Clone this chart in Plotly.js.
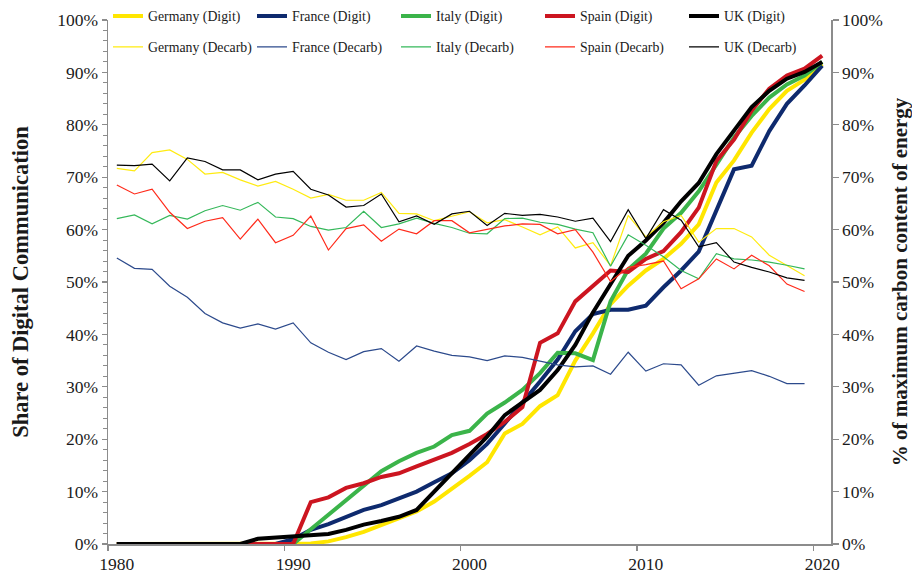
<!DOCTYPE html>
<html>
<head>
<meta charset="utf-8">
<script src="https://cdn.plot.ly/plotly-3.0.1.min.js"></script>
<style>html,body{margin:0;padding:0;background:#fff;}#chart{width:912px;height:572px;}</style>
</head>
<body>
<div id="chart"></div>
<script>
// Years of the digital-communication series (1980-2020) and decarbonisation series (1980-2019)
const yearsDigit = [1980,1981,1982,1983,1984,1985,1986,1987,1988,1989,1990,1991,1992,1993,1994,1995,1996,1997,1998,1999,2000,2001,2002,2003,2004,2005,2006,2007,2008,2009,2010,2011,2012,2013,2014,2015,2016,2017,2018,2019,2020];
const yearsDecarb = [1980,1981,1982,1983,1984,1985,1986,1987,1988,1989,1990,1991,1992,1993,1994,1995,1996,1997,1998,1999,2000,2001,2002,2003,2004,2005,2006,2007,2008,2009,2010,2011,2012,2013,2014,2015,2016,2017,2018,2019];
const xTickLabels = [1980,1990,2000,2010,2020];

// Share of digital communication (%)
const germanyDigit = [0,0,0,0,0,0,0,0,0,0,0,0.1,0.5,1.3,2.3,3.6,4.9,6.2,8.1,10.5,13.0,15.6,21.1,22.9,26.3,28.4,35.0,40.2,45.8,49.3,52.2,54.4,57.3,61.0,69.0,73.2,78.5,83.0,86.5,88.6,91.6];
const franceDigit  = [0,0,0,0,0,0,0,0,0,0,0.9,2.7,3.8,5.2,6.5,7.4,8.6,10.0,11.8,13.5,16.0,19.1,23.0,26.9,31.0,35.2,40.6,43.9,44.7,44.7,45.5,49.0,52.2,55.8,63.6,71.5,72.2,78.8,84.0,87.5,91.3];
const italyDigit   = [0,0,0,0,0,0,0,0,0,0,0,2.8,5.6,8.3,11.1,13.9,15.8,17.4,18.6,20.8,21.6,24.9,27.0,29.4,32.6,36.5,36.4,35.1,46.3,52.4,55.4,60.2,63.2,67.3,72.4,77.6,81.7,85.2,87.7,89.4,92.0];
const spainDigit   = [0,0,0,0,0,0,0,0,0,0,0,8.0,8.9,10.7,11.6,12.8,13.5,14.8,16.0,17.4,19.1,21.0,23.3,26.1,38.4,40.2,46.3,49.3,52.2,51.9,54.4,55.9,59.5,64.2,73.1,77.2,82.7,86.9,89.4,90.7,93.2];
const ukDigit      = [0,0,0,0,0,0,0,0,1.0,1.2,1.4,1.6,1.9,2.7,3.7,4.4,5.2,6.5,10.0,13.5,17.0,20.5,24.6,26.9,29.4,33.2,38.0,44.2,49.6,55.0,57.9,61.3,65.4,68.9,74.4,78.8,83.4,86.5,88.8,90.1,92.0];

// % of maximum carbon content of energy
const germanyDecarb = [71.7,71.2,74.7,75.2,73.4,70.6,70.9,69.5,68.3,69.2,67.7,66.0,66.7,65.6,65.6,67.1,63.1,63.0,61.7,62.6,63.4,61.3,61.9,60.5,59.0,60.5,56.5,57.5,53.1,62.7,58.6,61.5,62.7,57.6,60.2,60.2,58.6,55.1,53.1,51.2];
const franceDecarb  = [54.6,52.6,52.4,49.2,47.1,44.0,42.2,41.2,42.0,41.0,42.2,38.4,36.6,35.2,36.7,37.3,34.9,37.8,36.8,36.0,35.7,35.0,35.9,35.6,34.9,34.2,33.8,34.0,32.4,36.6,33.0,34.4,34.2,30.3,32.1,32.6,33.1,32.0,30.6,30.6];
const italyDecarb   = [62.1,62.8,61.1,62.7,62.0,63.6,64.6,63.7,65.2,62.4,62.1,60.6,59.9,60.4,63.5,60.4,61.1,62.2,61.2,60.4,59.3,59.2,62.1,62.2,61.4,61.0,60.1,59.4,53.0,59.0,57.0,54.8,52.2,50.6,55.4,54.4,54.2,53.8,53.2,52.5];
const spainDecarb   = [68.5,66.8,67.7,63.3,60.2,61.6,62.3,58.2,62.0,57.5,58.9,62.6,56.1,60.2,60.9,57.8,60.1,59.2,61.7,61.7,59.4,60.0,60.7,61.1,61.0,59.2,60.0,55.7,50.1,52.8,53.3,54.0,48.7,50.6,54.4,52.5,55.1,53.1,49.6,48.2];
const ukDecarb      = [72.3,72.2,72.5,69.3,73.7,73.0,71.4,71.4,69.5,70.6,71.1,67.7,66.6,64.3,64.6,66.8,61.5,62.6,61.0,63.0,63.5,60.8,63.1,62.7,62.9,62.4,61.6,62.2,57.7,63.8,58.3,63.8,61.8,56.7,57.5,53.8,52.8,51.9,50.8,50.3];

const countries = ['Germany','France','Italy','Spain','UK'];
const digitSeries = [germanyDigit, franceDigit, italyDigit, spainDigit, ukDigit];
const decarbSeries = [germanyDecarb, franceDecarb, italyDecarb, spainDecarb, ukDecarb];
const digitColors = ['#FFE600','#0E2A6E','#3BB44A','#CC1520','#000000'];
const decarbColors = ['#FFEB10','#2C4A8C','#35B85A','#FF2A1A','#000000'];

const FONT = "'Liberation Serif', 'Times New Roman', serif";
const traces = [];
countries.forEach((c, i) => {
  traces.push({
    type: 'scatter', mode: 'lines', name: c + ' (Digit)',
    x: yearsDigit, y: digitSeries[i], yaxis: 'y', legend: 'legend',
    line: {color: digitColors[i], width: 4}, hoverinfo: 'skip'
  });
});
countries.forEach((c, i) => {
  traces.push({
    type: 'scatter', mode: 'lines', name: c + ' (Decarb)',
    x: yearsDecarb, y: decarbSeries[i], yaxis: 'y2', legend: 'legend2',
    line: {color: decarbColors[i], width: 1.2}, hoverinfo: 'skip'
  });
});

const axisGray = '#8c8c8c';
const tickFont = {family: FONT, size: 17.5, color: '#1a1a1a'};
const titleFont = {family: FONT, size: 21, color: '#1a1a1a', weight: 700};

const layout = {
  width: 912, height: 572,
  margin: {l: 108, r: 81, t: 20, b: 28, autoexpand: false},
  paper_bgcolor: '#fff', plot_bgcolor: '#fff',
  showlegend: true,
  xaxis: {
    range: [1979.5, 2020.5], showgrid: false, zeroline: false,
    showline: true, linecolor: axisGray, linewidth: 1.5,
    tickmode: 'array', tickvals: xTickLabels, ticktext: xTickLabels.map(String),
    ticks: 'outside', ticklen: 3, tickcolor: 'rgba(0,0,0,0)',
    minor: {tickmode: 'array', tickvals: xTickLabels.map(v => v - 0.5), ticks: 'outside', ticklen: 5, tickcolor: axisGray, tickwidth: 1.2, showgrid: false},
    tickfont: tickFont
  },
  yaxis: {
    range: [0, 100], showgrid: false, zeroline: false,
    showline: true, linecolor: axisGray, linewidth: 1.5,
    dtick: 10, tick0: 0, ticksuffix: '%',
    ticks: 'outside', ticklen: 5, tickcolor: axisGray, tickwidth: 1.2,
    minor: {dtick: 2, tick0: 0, ticks: 'outside', ticklen: 4, tickcolor: axisGray, tickwidth: 1, showgrid: false},
    tickfont: tickFont,
    title: {text: 'Share of Digital Communication', font: Object.assign({}, titleFont, {size: 22.5}), standoff: 22}
  },
  yaxis2: {
    range: [0, 100], overlaying: 'y', side: 'right', showgrid: false, zeroline: false,
    showline: true, linecolor: axisGray, linewidth: 1.5,
    dtick: 10, tick0: 0, ticksuffix: '%',
    ticks: 'outside', ticklen: 6, tickcolor: axisGray, tickwidth: 1.2,
    tickfont: tickFont,
    title: {text: '% of maximum carbon content of energy', font: titleFont, standoff: 16}
  },
  legend: {
    orientation: 'h', x: 0, xanchor: 'left', y: 1.0076, yanchor: 'middle',
    entrywidth: 99, entrywidthmode: 'pixels', bgcolor: 'rgba(0,0,0,0)',
    font: {family: FONT, size: 13.8, color: '#1a1a1a'}, traceorder: 'normal'
  },
  legend2: {
    orientation: 'h', x: 0, xanchor: 'left', y: 0.9485, yanchor: 'middle',
    entrywidth: 99, entrywidthmode: 'pixels', bgcolor: 'rgba(0,0,0,0)',
    font: {family: FONT, size: 13.8, color: '#1a1a1a'}, traceorder: 'normal'
  }
};

Plotly.newPlot('chart', traces, layout, {displayModeBar: false, staticPlot: true});
</script>
</body>
</html>
